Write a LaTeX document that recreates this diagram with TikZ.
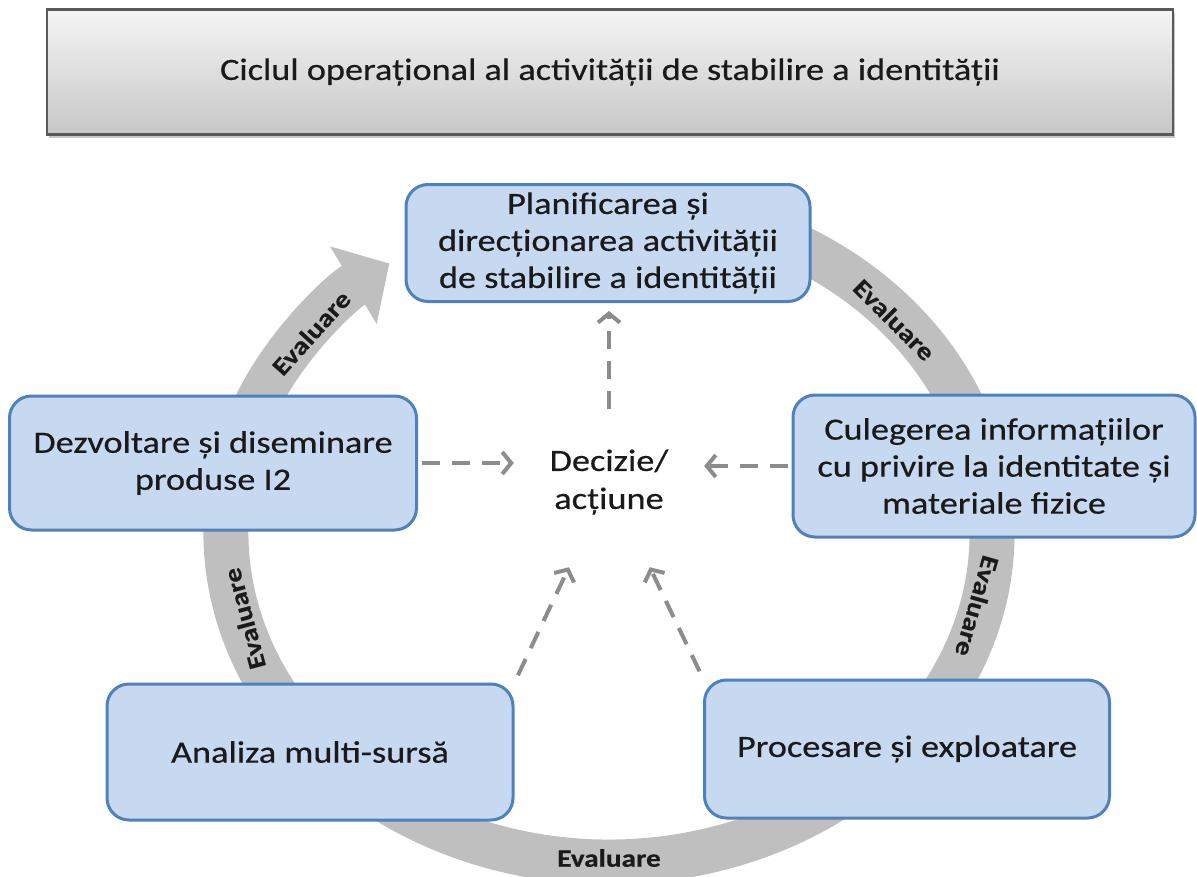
\documentclass[tikz,border=0pt]{standalone}
\usepackage{fontspec}
\setmainfont[FakeStretch=1.17, FakeBold=0.5]{Carlito}
\usetikzlibrary{positioning, arrows.meta, shadows, calc}
\definecolor{cBOX}{HTML}{C6D9F1}
\definecolor{cEDGE}{HTML}{4F81BD}
\definecolor{cRING}{HTML}{BFBFBF}
\definecolor{cDASH}{HTML}{8C8C8C}
\definecolor{cINK}{HTML}{1A1A1A}
\tikzset{
  titlebox/.style={
    draw=black!65, line width=2.5pt,
    top color=black!4, bottom color=black!22,
    drop shadow={shadow xshift=2pt, shadow yshift=-3pt, opacity=0.45},
    minimum width=1126pt, minimum height=125pt,
    text=cINK,
    font=\fontsize{31}{37}\selectfont
  },
  stagebox/.style={
    draw=cEDGE, line width=3pt,
    fill=cBOX,
    rounded corners=22pt,
    inner sep=0pt,
    text=cINK,
    align=center,
    font=\fontsize{31}{37}\selectfont
  },
  decision/.style={
    minimum width=190pt, minimum height=170pt,
    inner sep=0pt,
    text=cINK,
    align=center,
    font=\fontsize{31}{38}\selectfont
  },
  ringband/.style={
    draw=cRING, line width=45pt,
    -{Triangle[length=42pt,width=88pt]}
  },
  evallabel/.style={
    inner sep=0pt,
    text=cINK,
    font=\bfseries\fontsize{25}{30}\selectfont
  },
  dasharrow/.style={
    draw=cDASH, line width=4pt,
    dash pattern=on 18pt off 12pt,
    -{Straight Barb[length=9pt,width=22pt,line width=4pt]}
  }
}

\begin{document}
\begin{tikzpicture}[x=1pt, y=-1pt]
  \useasboundingbox (0,0) rectangle (1197,876);
  \coordinate (ctr) at (609,533);

  % evaluation ring, drawn first so the stages sit on top
  \draw[ringband] ([shift={(-62:383 and 329)}]ctr)
    arc[start angle=-62, end angle=235, x radius=383, y radius=329];
  \begin{scope}[shift={(ctr)}]
    \node[evallabel, rotate=48]   (ev1) at (218:378 and 325) {Evaluare};
    \node[evallabel, rotate=-45]  (ev2) at (-41:378 and 325) {Evaluare};
    \node[evallabel, rotate=-106] (ev3) at (13:378 and 325) {Evaluare};
    \node[evallabel]              (ev4) at (90:378 and 325) {Evaluare};
    \node[evallabel, rotate=105]  (ev5) at (164.7:378 and 325) {Evaluare};
  \end{scope}

  \node[titlebox] (title) at (610,72) {Ciclul operațional al activității de stabilire a identității};

  \node[stagebox, minimum width=404pt, minimum height=117pt] (plan) at (608,243)
    {Planificarea și\\direcționarea activității\\de stabilire a identității};
  \node[stagebox, minimum width=402pt, minimum height=142pt] (coll) at (994,466)
    {Culegerea informațiilor\\cu privire la identitate și\\materiale fizice};
  \node[stagebox, minimum width=405pt, minimum height=138pt] (proc) at (907,749)
    {Procesare și exploatare};
  \node[stagebox, minimum width=406pt, minimum height=136pt] (anal) at (310,752)
    {Analiza multi-sursă};
  \node[stagebox, minimum width=407pt, minimum height=134pt] (diss) at (213,463)
    {Dezvoltare și diseminare\\produse I2};

  \node[decision] (dec) at (609,482) {Decizie/\\acțiune};

  \draw[dasharrow, shorten <=-12pt, shorten >=8pt] (dec.north) -- (dec.north |- plan.south);
  \draw[dasharrow, shorten <=4pt] (diss.east) -- (diss.east -| dec.west);
  \draw[dasharrow, shorten <=4pt] (coll.west) -- (coll.west -| dec.east);
  \draw[dasharrow, shorten <=8pt] (anal.north east) -- (dec);
  \draw[dasharrow, shorten <=8pt] (proc.north west) -- (dec);
\end{tikzpicture}
\end{document}
